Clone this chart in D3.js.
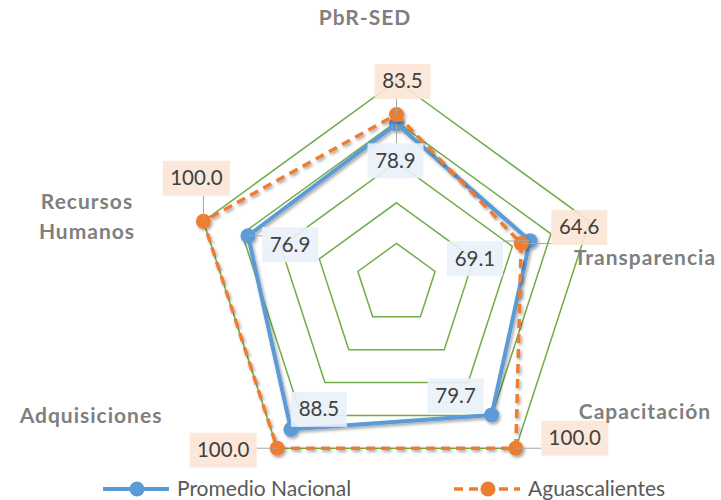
<!DOCTYPE html>
<meta charset="utf-8">
<style>

body {
  margin: 0;
  background: #fff;
}

text {
  font-family: Lato, "Open Sans", sans-serif;
}

</style>
<svg></svg>
<script src="https://cdn.jsdelivr.net/npm/d3@7"></script>
<script>

var axes = ["PbR-SED", "Transparencia", "Capacitación", "Adquisiciones", "Recursos Humanos"];
var nacional = [78.9, 69.1, 79.7, 88.5, 76.9];
var aguascalientes = [83.5, 64.6, 100.0, 100.0, 100.0];
var rings = [20, 40, 60, 80, 100];
var seriesNames = ["Promedio Nacional", "Aguascalientes"];

var width = 721,
    height = 500,
    cx = 396.5,
    cy = 284;

// label box offsets from the marker
var nacOffsets = [[-1, 37], [-55, 18], [-36, -19], [28, -20], [42, 9]],
    aguOffsets = [[6, -33], [58, -16], [59, -10], [-54, 2], [-7, -43]];

// category labels: [x centre, first baseline]
var axisLabelPos = [[365, 25], [645, 265], [645, 419], [91, 423], [87, 209]];

var svg = d3.select("svg")
    .attr("width", width)
    .attr("height", height);

var defs = svg.append("defs");
var shadow = defs.append("filter")
    .attr("id", "shadow")
    .attr("x", "-50%").attr("y", "-50%")
    .attr("width", "200%").attr("height", "200%");
shadow.append("feDropShadow")
    .attr("dx", 1.5).attr("dy", 2)
    .attr("stdDeviation", 1.6)
    .attr("flood-color", "#000")
    .attr("flood-opacity", 0.35);

var r = d3.scaleLinear()
    .domain([0, 100])
    .range([0, 203]);

var angle = d3.scalePoint()
    .domain(axes)
    .range([0, 2 * Math.PI * 4 / 5]);

function pt(i, v) {
  var a = angle(axes[i]);
  return [cx + r(v) * Math.sin(a), cy - r(v) * Math.cos(a)];
}

var g = svg.append("g");

// grid rings
g.selectAll(".ring")
  .data(rings)
  .enter().append("path")
    .attr("class", "ring")
    .attr("fill", "none")
    .attr("stroke", "#70ad47")
    .attr("stroke-width", 1.5)
    .attr("d", function(v) {
      return d3.line()(axes.map(function(_, i) { return pt(i, v); })) + "Z";
    });

var series = [
  {name: seriesNames[0], values: nacional, color: "#5b9bd5", dash: null, width: 4, offsets: nacOffsets, box: "#eaf1f9"},
  {name: seriesNames[1], values: aguascalientes, color: "#ed7d31", dash: "9,6", width: 3.5, offsets: aguOffsets, box: "#fbe5d6"}
];

series.forEach(function(s) {
  var pts = s.values.map(function(v, i) { return pt(i, v); });
  var sg = g.append("g").attr("filter", "url(#shadow)");
  sg.append("path")
      .attr("fill", "none")
      .attr("stroke", s.color)
      .attr("stroke-width", s.width)
      .attr("stroke-dasharray", s.dash)
      .attr("stroke-linejoin", "round")
      .attr("d", d3.line()(pts) + "Z");
  sg.selectAll("circle")
    .data(pts)
    .enter().append("circle")
      .attr("cx", function(d) { return d[0]; })
      .attr("cy", function(d) { return d[1]; })
      .attr("r", 7.5)
      .attr("fill", s.color);
  s.pts = pts;
});

// data labels
var labels = svg.append("g");
series.forEach(function(s) {
  s.values.forEach(function(v, i) {
    var p = s.pts[i],
        lx = p[0] + s.offsets[i][0],
        ly = p[1] + s.offsets[i][1],
        txt = d3.format(".1f")(v),
        w = txt.length > 4 ? 67 : 56,
        h = 35;
    var x0 = lx - w / 2, y0 = ly - h / 2;
    var nx = Math.max(x0, Math.min(p[0], x0 + w)),
        ny = Math.max(y0, Math.min(p[1], y0 + h));
    if (Math.hypot(nx - p[0], ny - p[1]) > 9) {
      labels.append("line")
          .attr("x1", p[0]).attr("y1", p[1])
          .attr("x2", nx).attr("y2", ny)
          .attr("stroke", "#a6a6a6")
          .attr("stroke-width", 1);
    }
    labels.append("rect")
        .attr("x", x0).attr("y", y0)
        .attr("width", w).attr("height", h)
        .attr("fill", s.box)
        .attr("fill-opacity", 0.9);
    labels.append("text")
        .attr("x", lx).attr("y", ly + 7)
        .attr("text-anchor", "middle")
        .attr("font-size", 20.5)
        .attr("fill", "#404040")
        .text(txt);
  });
});

// category labels
axes.forEach(function(name, i) {
  var words = name === "Recursos Humanos" ? name.split(" ") : [name];
  var t = svg.append("text")
      .attr("x", axisLabelPos[i][0])
      .attr("y", axisLabelPos[i][1])
      .attr("text-anchor", "middle")
      .attr("font-size", 21)
      .attr("letter-spacing", 1)
      .attr("font-weight", "bold")
      .attr("fill", "#7f7f7f");
  words.forEach(function(w, k) {
    t.append("tspan")
        .attr("x", axisLabelPos[i][0])
        .attr("dy", k ? 30 : 0)
        .text(w);
  });
});

// legend
var legend = svg.append("g");
var legendItems = [{x: 103, s: series[0]}, {x: 454, s: series[1]}];
legendItems.forEach(function(d) {
  var item = legend.append("g").attr("transform", "translate(" + d.x + ",489)");
  item.append("line")
      .attr("x1", 0).attr("x2", 66)
      .attr("stroke", d.s.color)
      .attr("stroke-width", d.s.width)
      .attr("stroke-dasharray", d.s.dash);
  item.append("circle")
      .attr("cx", 34)
      .attr("r", 7.5)
      .attr("fill", d.s.color);
  item.append("text")
      .attr("x", 74)
      .attr("y", 7)
      .attr("font-size", 21)
      .attr("fill", "#595959")
      .text(d.s.name);
});

</script>
